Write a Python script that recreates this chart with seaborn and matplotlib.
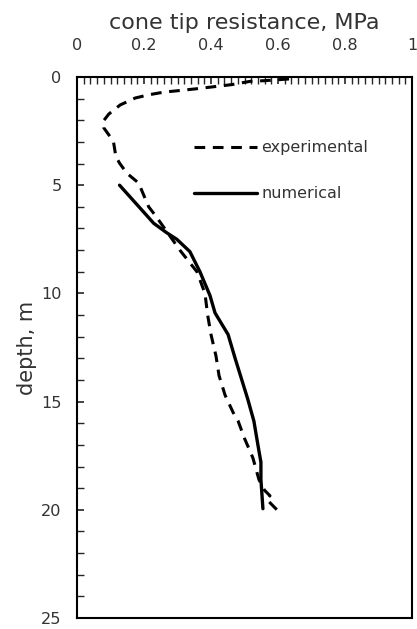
import matplotlib
matplotlib.use("Agg")
import matplotlib.pyplot as plt
import seaborn as sns
import pandas as pd
from matplotlib.ticker import MultipleLocator

# experimental data (cone tip resistance MPa, depth m)
exp_qc = [0.633, 0.56, 0.517, 0.463, 0.408, 0.353, 0.303, 0.259, 0.215, 0.174, 0.129,
          0.095, 0.078, 0.08, 0.099, 0.109, 0.116, 0.127, 0.149, 0.184, 0.203, 0.214,
          0.233, 0.257, 0.307, 0.358, 0.382, 0.39, 0.40, 0.415, 0.424, 0.442, 0.466,
          0.481, 0.5, 0.525, 0.543, 0.56, 0.576, 0.565, 0.6]
exp_depth = [0.09, 0.17, 0.2, 0.35, 0.45, 0.55, 0.63, 0.7, 0.82, 0.97, 1.29,
             1.71, 2.05, 2.35, 2.76, 3.0, 3.68, 3.98, 4.45, 4.9, 5.6, 6.0,
             6.38, 6.9, 8.0, 9.0, 10.0, 11.0, 11.9, 12.9, 13.8, 14.7, 15.5,
             15.9, 16.7, 17.6, 18.6, 19.1, 19.35, 19.5, 20.05]

num_qc = [0.127, 0.185, 0.229, 0.268, 0.298, 0.337, 0.367, 0.397, 0.412, 0.451,
          0.472, 0.492, 0.51, 0.528, 0.54, 0.549, 0.549, 0.555]
num_depth = [5.0, 6.0, 6.76, 7.2, 7.5, 8.07, 9.0, 10.1, 10.9, 11.9,
             13.0, 14.0, 14.9, 15.9, 17.0, 17.8, 18.6, 19.95]

x_ticks = [0, 0.2, 0.4, 0.6, 0.8, 1]
x_tick_labels = ["0", "0.2", "0.4", "0.6", "0.8", "1"]
y_ticks = [0, 5, 10, 15, 20, 25]
y_tick_labels = ["0", "5", "10", "15", "20", "25"]

sns.set_style("white")
plt.rcParams['font.family'] = ['DejaVu Sans']
txt_color = "#333333"

fig = plt.figure(figsize=(4.17, 6.29), dpi=100)
ax = fig.add_axes([77/417, 1 - 618/629, (412-77)/417, (618-77)/629])

df_exp = pd.DataFrame({"qc": exp_qc, "depth": exp_depth})
df_num = pd.DataFrame({"qc": num_qc, "depth": num_depth})

sns.lineplot(data=df_exp, x="qc", y="depth", sort=False, estimator=None, ax=ax,
             color="black", lw=2.2, linestyle=(0, (3.5, 2.5)), label="experimental")
sns.lineplot(data=df_num, x="qc", y="depth", sort=False, estimator=None, ax=ax,
             color="black", lw=2.4, label="numerical")

ax.set_xlim(0, 1)
ax.set_ylim(25, 0)
ax.xaxis.tick_top()
ax.xaxis.set_label_position("top")
ax.set_xticks(x_ticks)
ax.set_xticklabels(x_tick_labels)
ax.set_yticks(y_ticks)
ax.set_yticklabels(y_tick_labels)
ax.xaxis.set_minor_locator(MultipleLocator(0.02))
ax.yaxis.set_minor_locator(MultipleLocator(1))
ax.tick_params(axis="x", which="both", direction="in", top=True, bottom=False,
               labelsize=11.6, labelcolor=txt_color, pad=17)
ax.tick_params(axis="x", which="major", length=5, width=1.2)
ax.tick_params(axis="x", which="minor", length=5, width=1.0)
ax.tick_params(axis="y", which="both", direction="in", left=True, right=False,
               labelsize=11.6, labelcolor=txt_color, pad=11)
ax.tick_params(axis="y", which="major", length=5, width=1.2)
ax.tick_params(axis="y", which="minor", length=5, width=1.0)

ax.set_xlabel("cone tip resistance, MPa", fontsize=16, color=txt_color, labelpad=7)
ax.set_ylabel("depth, m", fontsize=15, color=txt_color, labelpad=3)

for s in ax.spines.values():
    s.set_color("black")
    s.set_linewidth(1.5)

leg = ax.legend(loc="upper left", bbox_to_anchor=(0.35, 0.883), frameon=False,
                fontsize=11.5, handlelength=3.9, handletextpad=0.3, labelspacing=1.95,
                borderaxespad=0, borderpad=0)
for t in leg.get_texts():
    t.set_color(txt_color)

fig.savefig("out.png", dpi=100)
